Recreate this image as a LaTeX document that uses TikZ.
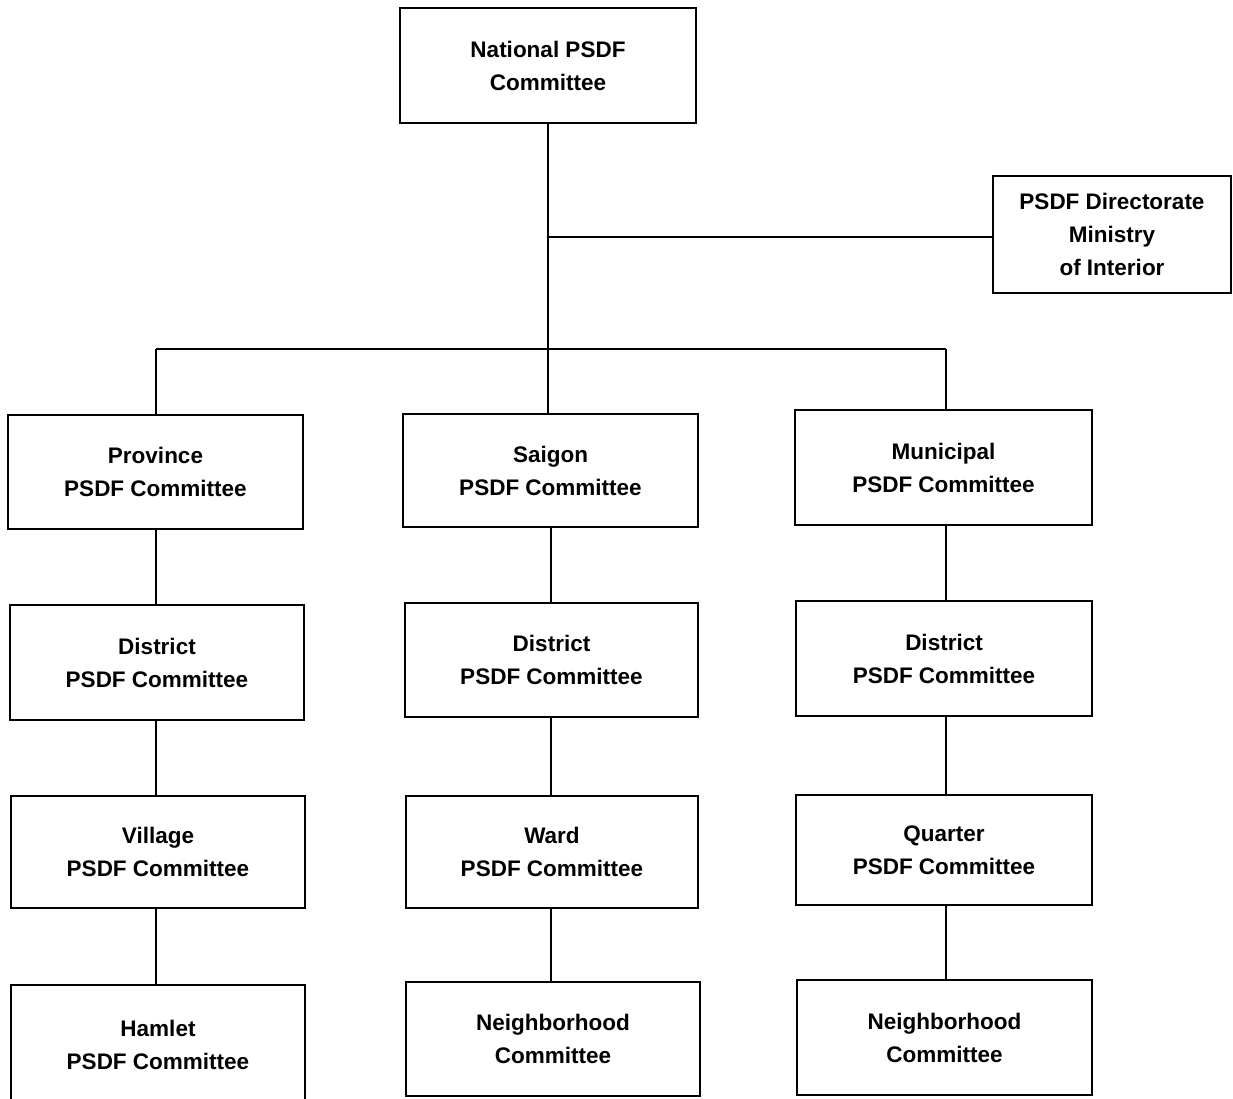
\documentclass[tikz,border=0pt]{standalone}
\usepackage{fontspec}
\setmainfont{Liberation Sans}
\begin{document}
\begin{tikzpicture}[x=1pt,y=-1pt,
  box/.style={draw=black, line width=2pt, fill=white, inner sep=0pt,
    align=center, font=\fontsize{22.5}{33}\selectfont\bfseries},
  conn/.style={draw=black, line width=2.8pt}]
\useasboundingbox (0,0) rectangle (1233,1099);
\clip (0,0) rectangle (1233,1099);
% helper macro for boxes: name, x1,y1,x2,y2, text
\newcommand{\orgbox}[6]{%
  \node[box, minimum width={#4-#2}, minimum height={#5-#3}] (#1) at ({(#2+#4)/2},{(#3+#5)/2}) {#6};}
% junction coordinates
\coordinate (jdir) at (548,237);
\coordinate (jbar) at (548,349);
\coordinate (jl) at (156,349);
\coordinate (jm) at (551,349);
\coordinate (jr) at (946,349);
\orgbox{nat}{400}{8}{696}{123}{National PSDF\\Committee}
\orgbox{dir}{993}{176}{1231}{293}{PSDF Directorate\\Ministry\\of Interior}
\orgbox{prov}{8}{415}{303}{529}{Province\\PSDF Committee}
\orgbox{sai}{403}{414}{698}{527}{Saigon\\PSDF Committee}
\orgbox{mun}{795}{410}{1092}{525}{Municipal\\PSDF Committee}
\orgbox{dl}{10}{605}{304}{720}{District\\PSDF Committee}
\orgbox{dm}{405}{603}{698}{717}{District\\PSDF Committee}
\orgbox{dr}{796}{601}{1092}{716}{District\\PSDF Committee}
\orgbox{vil}{11}{796}{305}{908}{Village\\PSDF Committee}
\orgbox{ward}{406}{796}{698}{908}{Ward\\PSDF Committee}
\orgbox{quar}{796}{795}{1092}{905}{Quarter\\PSDF Committee}
\orgbox{ham}{11}{985}{305}{1104}{Hamlet\\PSDF Committee}
\orgbox{nbm}{406}{982}{700}{1096}{Neighborhood\\Committee}
\orgbox{nbr}{797}{980}{1092}{1095}{Neighborhood\\Committee}
% connectors
\draw[conn] (nat.south) -- (jdir) -- (jbar);
\draw[conn] (jdir) -- (dir.west |- jdir);
\draw[conn] (jl) -- (jr);
\draw[conn] (jl) -- (jl |- prov.north);
\draw[conn] (jbar) -- (jbar |- sai.north);
\draw[conn] (jr) -- (jr |- mun.north);
\draw[conn] (prov.south -| jl) -- (dl.north -| jl);
\draw[conn] (dl.south -| jl) -- (vil.north -| jl);
\draw[conn] (vil.south -| jl) -- (ham.north -| jl);
\draw[conn] (sai.south -| jm) -- (dm.north -| jm);
\draw[conn] (dm.south -| jm) -- (ward.north -| jm);
\draw[conn] (ward.south -| jm) -- (nbm.north -| jm);
\draw[conn] (mun.south -| jr) -- (dr.north -| jr);
\draw[conn] (dr.south -| jr) -- (quar.north -| jr);
\draw[conn] (quar.south -| jr) -- (nbr.north -| jr);
\end{tikzpicture}
\end{document}
